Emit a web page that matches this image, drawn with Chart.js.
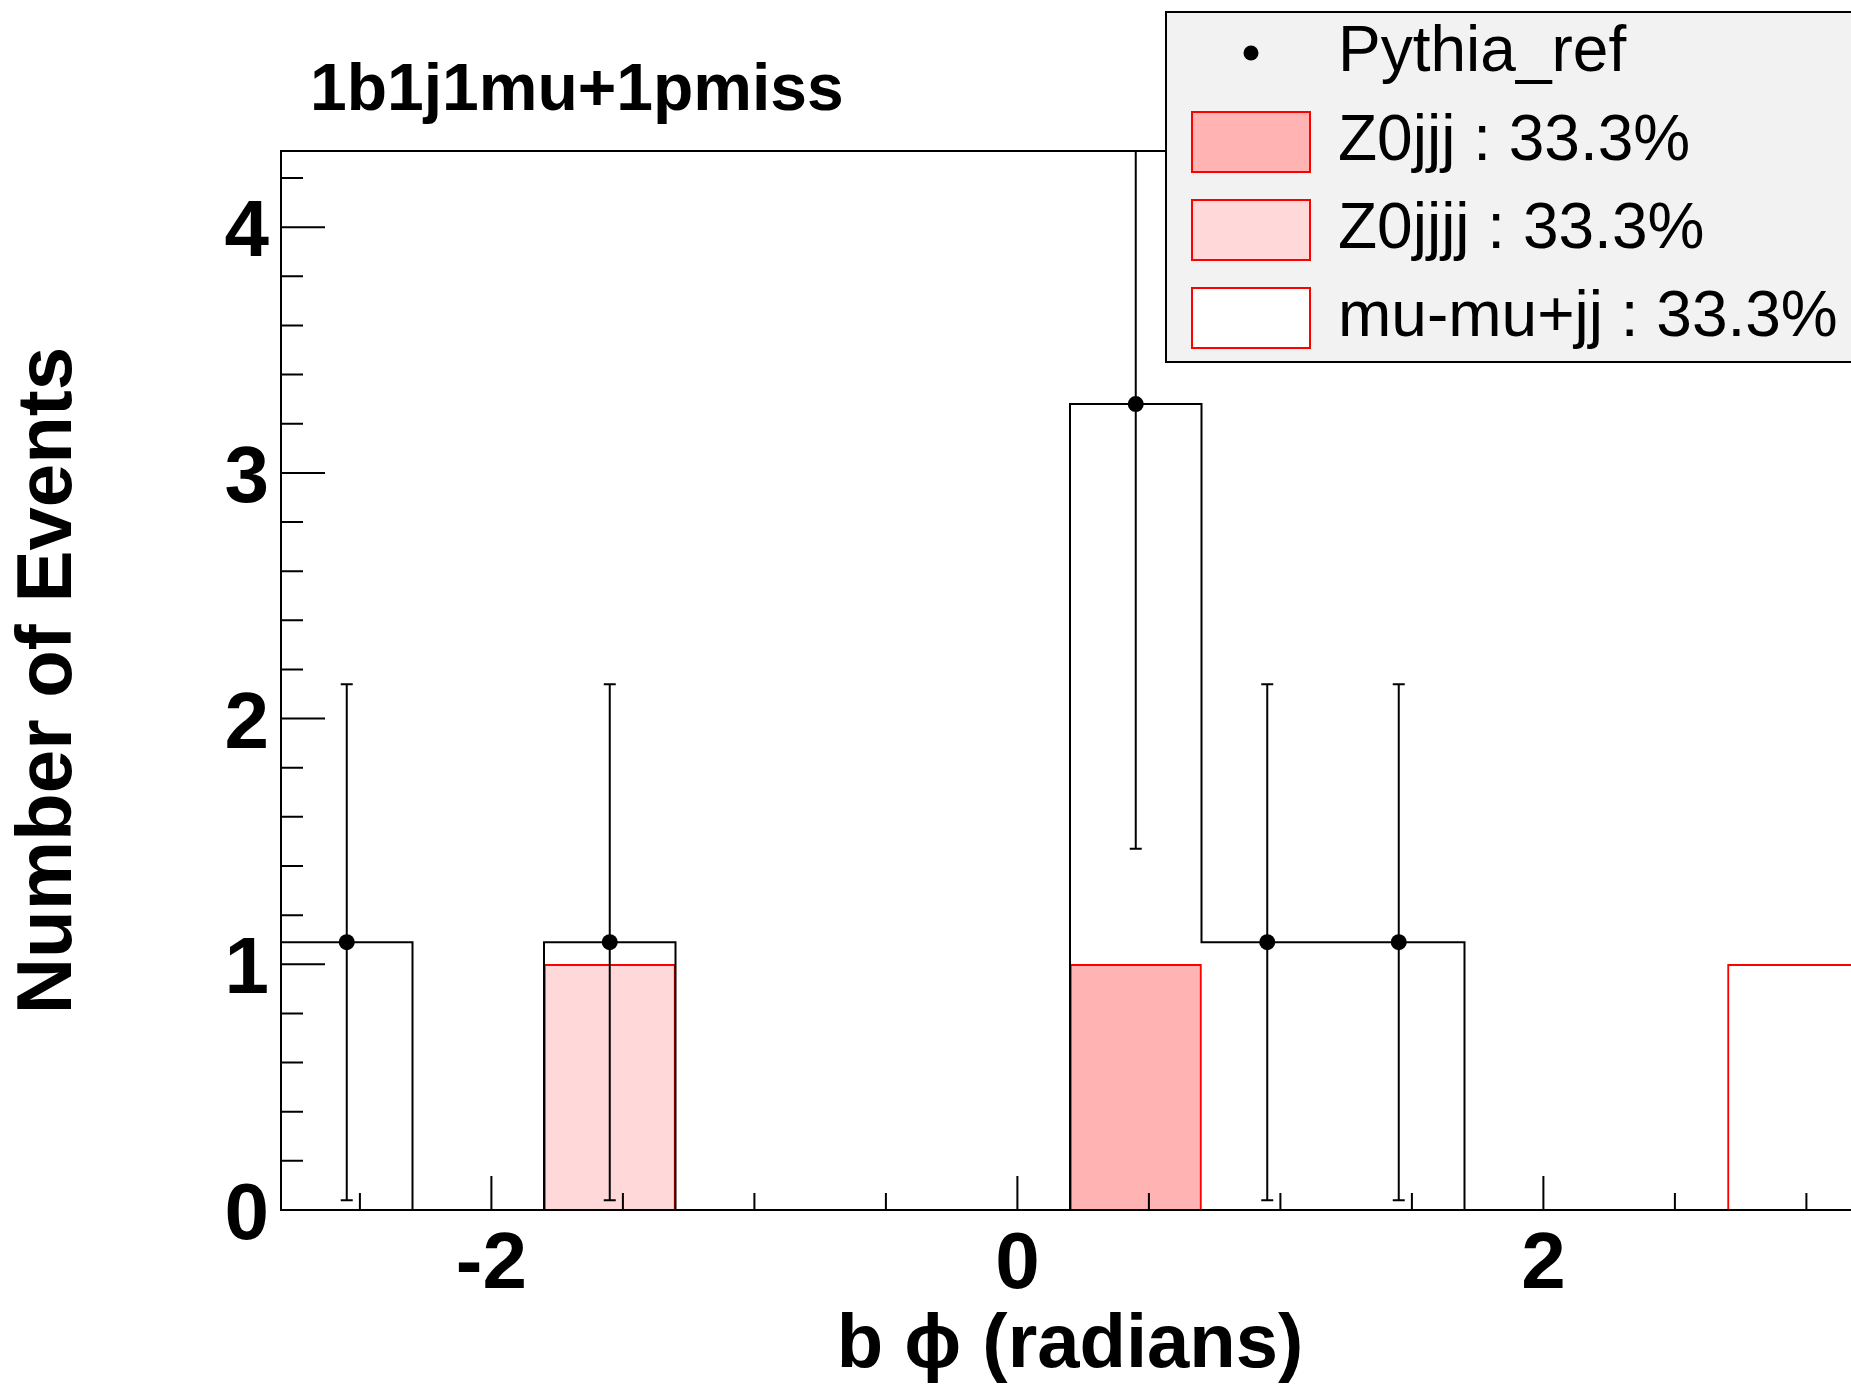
<!DOCTYPE html>
<html>
<head>
<meta charset="utf-8">
<title>1b1j1mu+1pmiss - b phi</title>
<script src="https://cdn.jsdelivr.net/npm/chart.js@4.4.1/dist/chart.umd.min.js"></script>
<style>
  html, body { margin: 0; padding: 0; background: #fff; overflow: hidden; }
  #wrap { width: 1880px; height: 1390px; }
</style>
</head>
<body>
<div id="wrap"><canvas id="chart" width="1880" height="1390"></canvas></div>
<script>
// histogram binning (radians)
const binEdges = [-2.8, -2.3, -1.8, -1.3, -0.8, -0.3, 0.2, 0.7, 1.2, 1.7, 2.2, 2.7, 3.2];
const binCenters = [-2.55, -2.05, -1.55, -1.05, -0.55, -0.05, 0.45, 0.95, 1.45, 1.95, 2.45, 2.95];

// series
const pythiaRef = [1.09, 0, 1.09, 0, 0, 0, 3.28, 1.09, 1.09, 0, 0, 0];
const pythiaErr = [1.05, 0, 1.05, 0, 0, 0, 1.81, 1.05, 1.05, 0, 0, 0];
const z0jjj = [0, 0, 0, 0, 0, 0, 1, 0, 0, 0, 0, 0];
const z0jjjj = [0, 0, 1, 0, 0, 0, 0, 0, 0, 0, 0, 0];
const mumujj = [0, 0, 0, 0, 0, 0, 0, 0, 0, 0, 0, 1];

// axes
const xTickValues = [-2.5, -2, -1.5, -1, -0.5, 0, 0.5, 1, 1.5, 2, 2.5, 3];
const xTickLabels = [-2, 0, 2];
const yTickValues = [0, 0.2, 0.4, 0.6, 0.8, 1, 1.2, 1.4, 1.6, 1.8, 2, 2.2, 2.4, 2.6, 2.8, 3, 3.2, 3.4, 3.6, 3.8, 4, 4.2];
const yTickLabels = [0, 1, 2, 3, 4];
const xRange = [-2.8, 3.2];
const yRange = [0, 4.31];

// texts
const seriesLabels = ["Pythia_ref", "Z0jjj : 33.3%", "Z0jjjj : 33.3%", "mu-mu+jj : 33.3%"];
const plotTitle = "1b1j1mu+1pmiss";
const xTitle = "b \u03D5 (radians)";
const yTitle = "Number of Events";

const FONT = "'Liberation Sans', Arial, Helvetica, sans-serif";
const isOn = (list, v) => list.some((t) => Math.abs(t - v) < 1e-6);
const toPoints = (values) => values.map((y, i) => ({ x: binCenters[i], y }));

const histBar = (label, values, fill) => ({
  type: "bar",
  label,
  data: toPoints(values),
  backgroundColor: fill,
  borderColor: "#ff0000",
  borderWidth: 2,
  borderSkipped: "start",
  grouped: false,
  categoryPercentage: 1,
  barPercentage: 1,
  order: 3,
});

// ROOT style frame with inward ticks, error bars, title and legend box
const rootFrame = {
  id: "rootFrame",
  afterDatasetsDraw(chart) {
    const { ctx, chartArea: a, scales: { x, y } } = chart;
    ctx.save();

    ctx.strokeStyle = "#000";
    ctx.lineWidth = 2;
    ctx.beginPath();
    pythiaRef.forEach((v, i) => {
      if (!v) return;
      const px = x.getPixelForValue(binCenters[i]);
      const lo = y.getPixelForValue(v - pythiaErr[i]);
      const hi = y.getPixelForValue(v + pythiaErr[i]);
      ctx.moveTo(px, lo);
      ctx.lineTo(px, Math.max(hi, a.top));
      ctx.moveTo(px - 6, lo);
      ctx.lineTo(px + 6, lo);
      if (hi >= a.top) {
        ctx.moveTo(px - 6, hi);
        ctx.lineTo(px + 6, hi);
      }
    });
    ctx.stroke();

    ctx.strokeRect(a.left, a.top, a.right - a.left, a.bottom - a.top);
    ctx.beginPath();
    x.ticks.forEach((t) => {
      const px = x.getPixelForValue(t.value);
      const len = isOn(xTickLabels, t.value) ? 34 : 17;
      ctx.moveTo(px, a.bottom);
      ctx.lineTo(px, a.bottom - len);
    });
    y.ticks.forEach((t) => {
      const py = y.getPixelForValue(t.value);
      const len = isOn(yTickLabels, t.value) ? 44 : 22;
      ctx.moveTo(a.left, py);
      ctx.lineTo(a.left + len, py);
    });
    ctx.stroke();
    ctx.restore();
  },
  afterDraw(chart) {
    const { ctx } = chart;
    const sets = chart.data.datasets;
    ctx.save();

    ctx.fillStyle = "#000";
    ctx.font = `bold 66px ${FONT}`;
    ctx.textBaseline = "alphabetic";
    ctx.fillText(plotTitle, 310, 110);

    // legend
    ctx.fillStyle = "#f2f2f2";
    ctx.fillRect(1166, 12, 760, 350);
    ctx.strokeStyle = "#000";
    ctx.lineWidth = 2;
    ctx.strokeRect(1166, 12, 760, 350);

    const rows = [53, 142, 230, 318];
    ctx.font = `64px ${FONT}`;
    ctx.textBaseline = "middle";
    seriesLabels.forEach((label, i) => {
      const cy = rows[i];
      if (i === 0) {
        ctx.fillStyle = "#000";
        ctx.beginPath();
        ctx.arc(1251, cy, 7.5, 0, Math.PI * 2);
        ctx.fill();
      } else {
        const ds = sets.find((d) => d.label === label);
        ctx.fillStyle = ds.backgroundColor;
        ctx.fillRect(1192, cy - 30, 118, 60);
        ctx.strokeStyle = ds.borderColor;
        ctx.strokeRect(1192, cy - 30, 118, 60);
      }
      ctx.fillStyle = "#000";
      ctx.fillText(label, 1338, cy);
    });
    ctx.restore();
  },
};

const tickFont = { family: FONT, weight: "bold", size: 80 };

new Chart(document.getElementById("chart"), {
  type: "bar",
  data: {
    datasets: [
      {
        type: "line",
        label: seriesLabels[0],
        data: toPoints(pythiaRef).filter((p) => p.y > 0),
        showLine: false,
        pointRadius: 8,
        pointBackgroundColor: "#000",
        pointBorderWidth: 0,
        order: 0,
      },
      {
        type: "line",
        label: "Pythia_ref hist",
        data: binEdges.map((x, i) => ({ x, y: pythiaRef[Math.min(i, pythiaRef.length - 1)] })),
        stepped: true,
        borderColor: "#000",
        borderWidth: 2,
        pointRadius: 0,
        fill: false,
        order: 1,
      },
      histBar(seriesLabels[1], z0jjj, "#ffb3b3"),
      histBar(seriesLabels[2], z0jjjj, "#ffd8da"),
      histBar(seriesLabels[3], mumujj, "#ffffff"),
    ],
  },
  options: {
    responsive: false,
    animation: false,
    devicePixelRatio: 1,
    layout: { padding: { top: 151, right: 21, left: 0, bottom: 0 } },
    plugins: { legend: { display: false }, tooltip: { enabled: false } },
    scales: {
      x: {
        type: "linear",
        min: xRange[0],
        max: xRange[1],
        offset: false,
        grid: { display: false, offset: false },
        border: { display: false },
        afterBuildTicks: (scale) => { scale.ticks = xTickValues.map((value) => ({ value })); },
        ticks: {
          autoSkip: false,
          maxRotation: 0,
          padding: 0,
          color: "#000",
          font: tickFont,
          callback: (v) => (isOn(xTickLabels, v) ? String(Math.round(v)) : ""),
        },
        title: {
          display: true,
          text: xTitle,
          color: "#000",
          font: { family: FONT, weight: "bold", size: 76, lineHeight: 1.15 },
          padding: { top: 0, bottom: 0 },
        },
        afterFit: (scale) => { scale.height = 180; },
      },
      y: {
        type: "linear",
        min: yRange[0],
        max: yRange[1],
        grid: { display: false },
        border: { display: false },
        afterBuildTicks: (scale) => { scale.ticks = yTickValues.map((value) => ({ value })); },
        ticks: {
          autoSkip: false,
          padding: 4,
          labelOffset: 7,
          color: "#000",
          font: tickFont,
          callback: (v) => (isOn(yTickLabels, v) ? String(Math.round(v)) : ""),
        },
        title: {
          display: true,
          text: yTitle,
          color: "#000",
          font: { family: FONT, weight: "bold", size: 78, lineHeight: 1.2 },
          padding: { top: 3, bottom: 0 },
        },
        afterFit: (scale) => { scale.width = 281; },
      },
    },
  },
  plugins: [rootFrame],
});
</script>
</body>
</html>
